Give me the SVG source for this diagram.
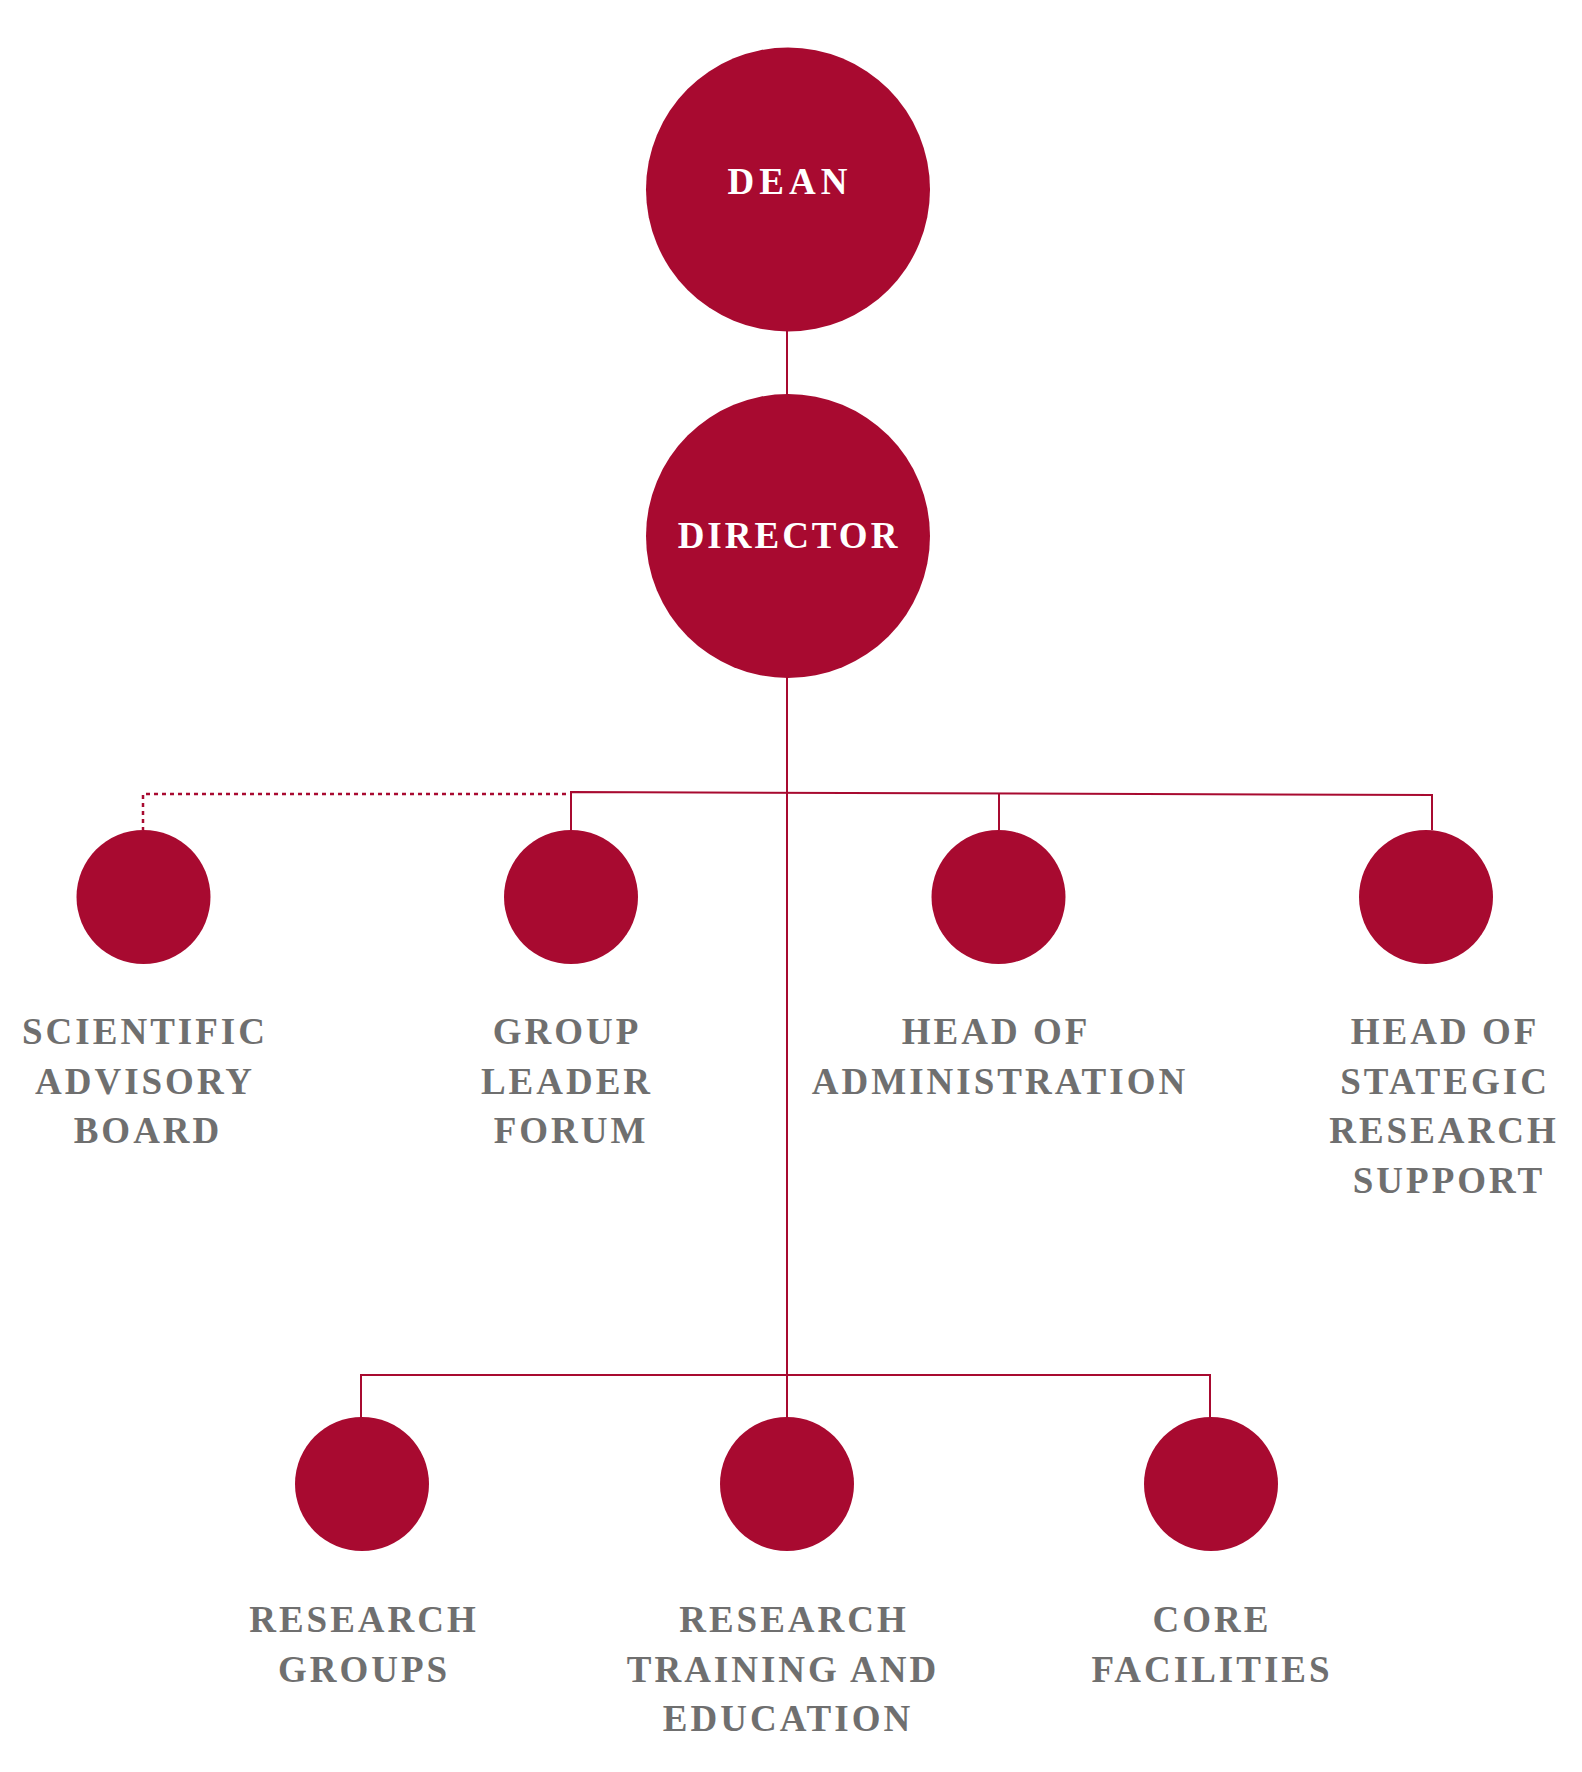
<svg xmlns="http://www.w3.org/2000/svg" width="1582" height="1772" viewBox="0 0 1582 1772">
<style>
.node{fill:#A80A30}
.lbl{font-family:"Liberation Serif","Times New Roman",serif;font-weight:bold;font-size:37px;letter-spacing:3px;fill:#6F6F6F;text-anchor:middle}
.wlbl{font-family:"Liberation Serif","Times New Roman",serif;font-weight:bold;font-size:37px;letter-spacing:3px;fill:#FFFFFF;text-anchor:middle}
.ln{stroke:#A80A30;stroke-width:2;fill:none}
.dot{stroke:#A80A30;stroke-width:2.5;fill:none;stroke-dasharray:4 4}
</style>
<rect width="1582" height="1772" fill="#FFFFFF"/>
<g id="connectors">
<line class="ln" x1="787" y1="330" x2="787" y2="395"/>
<line class="ln" x1="787" y1="677" x2="787" y2="1418"/>
<polyline class="ln" points="571,830 571,792 1432,795 1432,830"/>
<line class="ln" x1="999" y1="793" x2="999" y2="830"/>
<polyline class="dot" points="566,794 143,794 143,830"/>
<polyline class="ln" points="361,1418 361,1375 1210,1375 1210,1418"/>
</g>
<g id="dean">
<circle class="node" cx="788" cy="189.5" r="142"/>
<text class="wlbl" x="790" y="194" style="letter-spacing:5px">DEAN</text>
</g>
<g id="director">
<circle class="node" cx="788" cy="536" r="142"/>
<text class="wlbl" x="789" y="548">DIRECTOR</text>
</g>
<g id="scientific-advisory-board">
<circle class="node" cx="143.5" cy="897" r="67"/>
<text class="lbl" x="145" y="1044">SCIENTIFIC</text>
<text class="lbl" x="145" y="1094">ADVISORY</text>
<text class="lbl" x="148" y="1143">BOARD</text>
</g>
<g id="group-leader-forum">
<circle class="node" cx="571" cy="897" r="67"/>
<text class="lbl" x="567" y="1044">GROUP</text>
<text class="lbl" x="567" y="1094">LEADER</text>
<text class="lbl" x="571" y="1143">FORUM</text>
</g>
<g id="head-of-administration">
<circle class="node" cx="998.5" cy="897" r="67"/>
<text class="lbl" x="996" y="1044">HEAD OF</text>
<text class="lbl" x="1000" y="1094">ADMINISTRATION</text>
</g>
<g id="head-of-strategic-research-support">
<circle class="node" cx="1426" cy="897" r="67"/>
<text class="lbl" x="1445" y="1044">HEAD OF</text>
<text class="lbl" x="1445" y="1094">STATEGIC</text>
<text class="lbl" x="1444" y="1143">RESEARCH</text>
<text class="lbl" x="1449" y="1193">SUPPORT</text>
</g>
<g id="research-groups">
<circle class="node" cx="362" cy="1484" r="67"/>
<text class="lbl" x="364" y="1632">RESEARCH</text>
<text class="lbl" x="364" y="1682">GROUPS</text>
</g>
<g id="research-training-and-education">
<circle class="node" cx="787" cy="1484" r="67"/>
<text class="lbl" x="794" y="1632">RESEARCH</text>
<text class="lbl" x="783" y="1682">TRAINING AND</text>
<text class="lbl" x="788" y="1731">EDUCATION</text>
</g>
<g id="core-facilities">
<circle class="node" cx="1211" cy="1484" r="67"/>
<text class="lbl" x="1212" y="1632">CORE</text>
<text class="lbl" x="1212" y="1682">FACILITIES</text>
</g>
</svg>
